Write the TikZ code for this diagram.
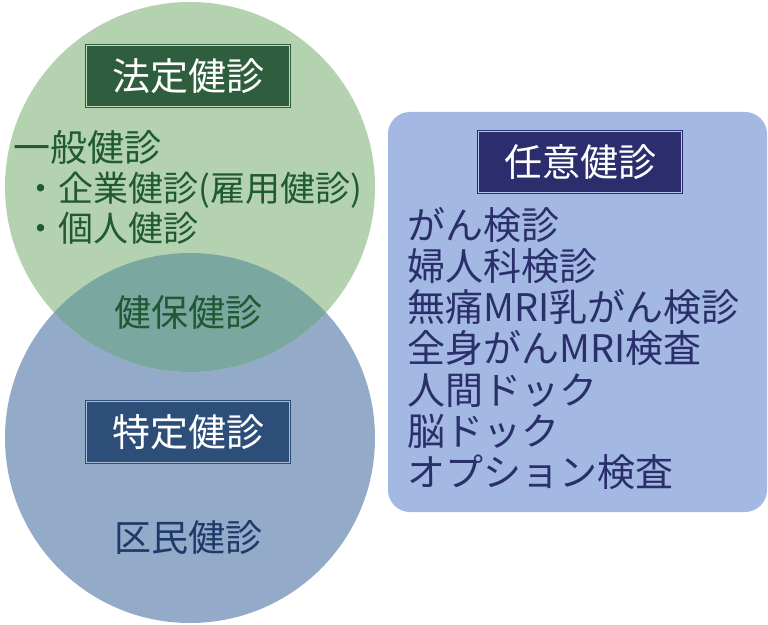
\documentclass[tikz,border=0pt]{standalone}
\usepackage{fontspec}
\setmainfont{Noto Sans CJK JP}
\definecolor{hoteiFill}{HTML}{B5D2B0}
\definecolor{tokuteiFill}{HTML}{93ABC8}
\definecolor{kenpoFill}{HTML}{7BA7A1}
\definecolor{niniFill}{HTML}{A3B8E2}
\definecolor{hoteiDark}{HTML}{2E5E3E}
\definecolor{tokuteiDark}{HTML}{2E4E7A}
\definecolor{niniDark}{HTML}{2C2D6C}
\definecolor{hoteiText}{HTML}{1F5A33}
\definecolor{tokuteiText}{HTML}{1E3A6A}
\definecolor{niniText}{HTML}{2A2F6B}

\begin{document}
\begin{tikzpicture}[x=1bp, y=-1bp,
    titlebox/.style={minimum width=203bp, minimum height=61bp, inner sep=0pt,
        text=white, font=\fontsize{38bp}{40bp}\selectfont,
        line width=0.6bp, double distance=1.4bp},
    bigtext/.style={inner sep=0pt, font=\fontsize{37bp}{41.2bp}\selectfont}]
    \useasboundingbox (0,0) rectangle (768,625);
    % circles
    \fill[tokuteiFill] (190,438) circle (185);
    \fill[hoteiFill] (190,187) circle (185);
    \begin{scope}
        \clip (190,438) circle (185);
        \fill[kenpoFill] (190,187) circle (185);
    \end{scope}
    \fill[niniFill, rounded corners=22bp] (388,112) rectangle (767,512);
    % titles
    \node[titlebox, fill=hoteiDark, draw=hoteiDark, double=hoteiFill!80] (hotei) at (188,76) {法定健診};
    \node[titlebox, fill=tokuteiDark, draw=tokuteiDark, double=tokuteiFill!80] (tokutei) at (188,432) {特定健診};
    \node[titlebox, fill=niniDark, draw=niniDark, double=niniFill!80] (nini) at (580,162) {任意健診};
    % texts
    \node[bigtext, text=hoteiText, anchor=west] (ippan) at (13,147) {一般健診};
    \node[bigtext, text=hoteiText, anchor=west, font=\fontsize{35bp}{40bp}\selectfont] (kigyo) at (23,190) {・企業健診(雇用健診)};
    \node[bigtext, text=hoteiText, anchor=west, font=\fontsize{35bp}{40bp}\selectfont] (kojin) at (23,228) {・個人健診};
    \node[bigtext, text=hoteiText] (kenpo) at (188,312) {健保健診};
    \node[bigtext, text=tokuteiText] (kumin) at (188,537) {区民健診};
    \node[bigtext, text=niniText, anchor=north west, align=left,
        font=\fontsize{38bp}{41.2bp}\selectfont] (list) at (407,207)
        {がん検診\\婦人科検診\\無痛MRI乳がん検診\\全身がんMRI検査\\人間ドック\\脳ドック\\オプション検査};
\end{tikzpicture}
\end{document}
